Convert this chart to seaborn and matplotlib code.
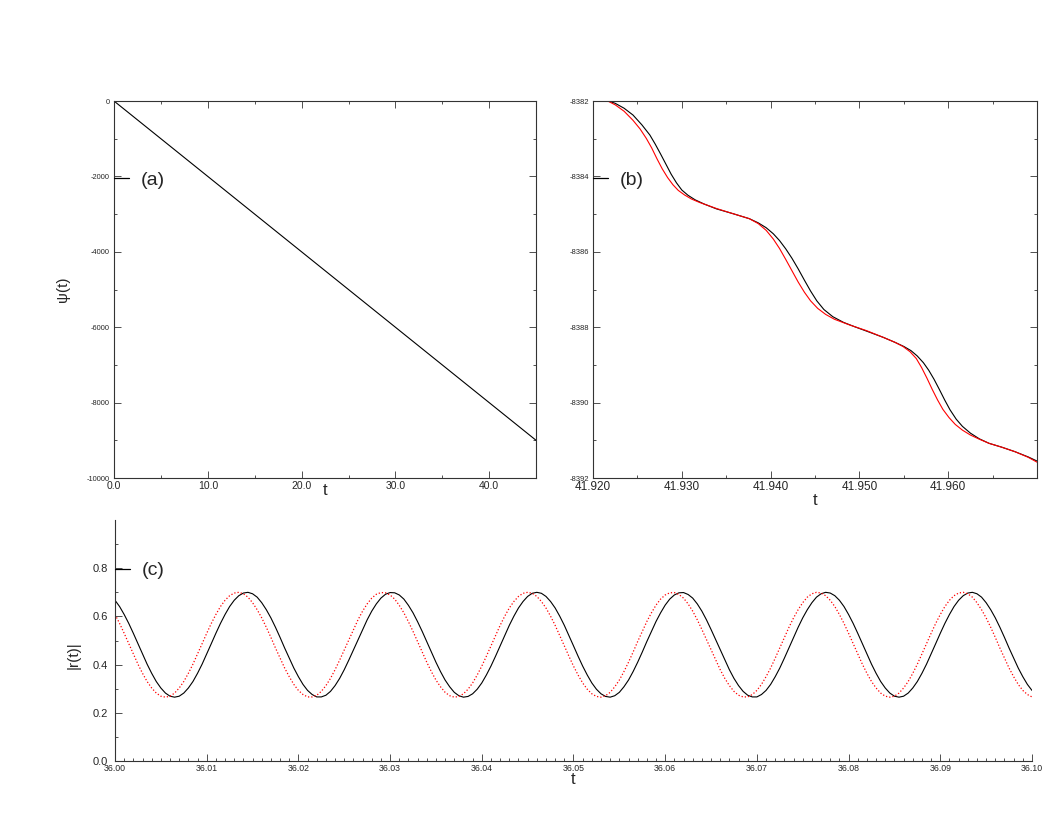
import numpy as np
import pandas as pd
import matplotlib
matplotlib.use("Agg")
import matplotlib.pyplot as plt
import seaborn as sns
from matplotlib.ticker import MultipleLocator, FormatStrFormatter
from matplotlib.lines import Line2D

# ---- data ----
# (a) psi(t) over the whole run
t_a = [0.0, 45.0]
psi_a = [0.0, -9000.0]

# (b) zoom on psi(t): black and red curves
t_b_black = [41.9215, 41.9225, 41.9235, 41.9245, 41.9255, 41.9264, 41.9270, 41.9276,
             41.9282, 41.9288, 41.9294, 41.9300, 41.9307, 41.9315, 41.9325, 41.9339,
             41.9358, 41.9376, 41.9386, 41.9395, 41.9403, 41.9410, 41.9417, 41.9424,
             41.9431, 41.9438, 41.9445, 41.9452, 41.9460, 41.9470, 41.9482, 41.9495,
             41.9510, 41.9527, 41.9540, 41.9550, 41.9558, 41.9565, 41.9572, 41.9578,
             41.9584, 41.9590, 41.9596, 41.9602, 41.9609, 41.9616, 41.9625, 41.9635,
             41.9646, 41.9660, 41.9675, 41.9690, 41.9700]
psi_b_black = [-8381.98, -8382.06, -8382.19, -8382.37, -8382.63, -8382.90, -8383.14, -8383.40,
               -8383.67, -8383.94, -8384.17, -8384.36, -8384.50, -8384.62, -8384.73, -8384.86,
               -8384.99, -8385.12, -8385.23, -8385.36, -8385.52, -8385.70, -8385.92, -8386.17,
               -8386.45, -8386.75, -8387.04, -8387.30, -8387.53, -8387.72, -8387.87, -8387.99,
               -8388.12, -8388.27, -8388.40, -8388.51, -8388.62, -8388.76, -8388.94, -8389.14,
               -8389.38, -8389.65, -8389.93, -8390.19, -8390.44, -8390.63, -8390.81, -8390.96,
               -8391.08, -8391.18, -8391.30, -8391.44, -8391.55]
t_b_red = [41.9215, 41.9225, 41.9235, 41.9245, 41.9253, 41.9260, 41.9266, 41.9272,
           41.9278, 41.9284, 41.9290, 41.9296, 41.9303, 41.9311, 41.9320, 41.9339,
           41.9358, 41.9376, 41.9386, 41.9395, 41.9403, 41.9410, 41.9417, 41.9424,
           41.9431, 41.9438, 41.9445, 41.9453, 41.9462, 41.9472, 41.9489, 41.9508,
           41.9527, 41.9540, 41.9549, 41.9557, 41.9564, 41.9570, 41.9576, 41.9582,
           41.9588, 41.9594, 41.9601, 41.9608, 41.9616, 41.9625, 41.9635, 41.9646,
           41.9660, 41.9675, 41.9690, 41.9700]
psi_b_red = [-8381.98, -8382.10, -8382.27, -8382.51, -8382.74, -8382.99, -8383.24, -8383.53,
             -8383.80, -8384.03, -8384.22, -8384.37, -8384.49, -8384.60, -8384.69, -8384.85,
             -8384.99, -8385.12, -8385.25, -8385.43, -8385.66, -8385.91, -8386.20, -8386.50,
             -8386.80, -8387.07, -8387.30, -8387.50, -8387.66, -8387.79, -8387.94, -8388.09,
             -8388.27, -8388.40, -8388.51, -8388.65, -8388.83, -8389.07, -8389.35, -8389.65,
             -8389.93, -8390.18, -8390.40, -8390.58, -8390.73, -8390.86, -8390.97, -8391.08,
             -8391.18, -8391.30, -8391.45, -8391.58]

# (c) |r(t)| sampled every 0.0005
t_c = np.linspace(36.0, 36.1, 201)
r_black = [0.667, 0.641, 0.608, 0.571, 0.530, 0.487, 0.444, 0.402, 0.364, 0.330,
           0.303, 0.282, 0.269, 0.265, 0.269, 0.282, 0.303, 0.330, 0.364, 0.402,
           0.444, 0.487, 0.530, 0.571, 0.608, 0.641, 0.667, 0.686, 0.697, 0.700,
           0.694, 0.680, 0.657, 0.628, 0.594, 0.555, 0.513, 0.469, 0.427, 0.386,
           0.350, 0.318, 0.293, 0.276, 0.266, 0.266, 0.273, 0.289, 0.313, 0.343,
           0.379, 0.419, 0.461, 0.504, 0.546, 0.586, 0.622, 0.652, 0.676, 0.692,
           0.699, 0.698, 0.689, 0.672, 0.646, 0.615, 0.578, 0.538, 0.495, 0.452,
           0.410, 0.371, 0.336, 0.308, 0.285, 0.271, 0.265, 0.268, 0.279, 0.298,
           0.324, 0.357, 0.394, 0.435, 0.478, 0.521, 0.563, 0.601, 0.635, 0.662,
           0.683, 0.696, 0.700, 0.696, 0.683, 0.662, 0.635, 0.601, 0.563, 0.521,
           0.478, 0.435, 0.394, 0.357, 0.324, 0.298, 0.279, 0.268, 0.265, 0.271,
           0.285, 0.308, 0.336, 0.371, 0.410, 0.452, 0.496, 0.538, 0.579, 0.615,
           0.647, 0.672, 0.689, 0.698, 0.699, 0.691, 0.676, 0.652, 0.622, 0.586,
           0.546, 0.504, 0.461, 0.419, 0.379, 0.343, 0.313, 0.289, 0.273, 0.266,
           0.266, 0.276, 0.293, 0.318, 0.350, 0.386, 0.427, 0.470, 0.513, 0.555,
           0.594, 0.628, 0.657, 0.680, 0.694, 0.700, 0.697, 0.686, 0.667, 0.641,
           0.608, 0.571, 0.530, 0.487, 0.444, 0.402, 0.364, 0.330, 0.303, 0.282,
           0.269, 0.265, 0.269, 0.282, 0.303, 0.330, 0.364, 0.402, 0.444, 0.487,
           0.530, 0.571, 0.608, 0.641, 0.667, 0.686, 0.697, 0.700, 0.694, 0.680,
           0.657, 0.628, 0.594, 0.555, 0.513, 0.469, 0.427, 0.386, 0.350, 0.318,
           0.293]
r_red = [0.608, 0.571, 0.530, 0.487, 0.444, 0.402, 0.364, 0.330, 0.303, 0.282,
         0.269, 0.265, 0.269, 0.282, 0.303, 0.330, 0.364, 0.402, 0.444, 0.487,
         0.530, 0.571, 0.608, 0.641, 0.667, 0.686, 0.697, 0.700, 0.694, 0.680,
         0.657, 0.628, 0.594, 0.555, 0.513, 0.469, 0.427, 0.386, 0.350, 0.318,
         0.293, 0.276, 0.266, 0.266, 0.273, 0.289, 0.313, 0.343, 0.379, 0.419,
         0.461, 0.504, 0.546, 0.586, 0.622, 0.652, 0.676, 0.692, 0.699, 0.698,
         0.689, 0.672, 0.646, 0.615, 0.578, 0.538, 0.495, 0.452, 0.410, 0.371,
         0.336, 0.308, 0.285, 0.271, 0.265, 0.268, 0.279, 0.298, 0.324, 0.357,
         0.394, 0.435, 0.478, 0.521, 0.563, 0.601, 0.635, 0.662, 0.683, 0.696,
         0.700, 0.696, 0.683, 0.662, 0.635, 0.601, 0.563, 0.521, 0.478, 0.435,
         0.394, 0.357, 0.324, 0.298, 0.279, 0.268, 0.265, 0.271, 0.285, 0.308,
         0.336, 0.371, 0.410, 0.452, 0.496, 0.538, 0.579, 0.615, 0.647, 0.672,
         0.689, 0.698, 0.699, 0.691, 0.676, 0.652, 0.622, 0.586, 0.546, 0.504,
         0.461, 0.419, 0.379, 0.343, 0.313, 0.289, 0.273, 0.266, 0.266, 0.276,
         0.293, 0.318, 0.350, 0.386, 0.427, 0.470, 0.513, 0.555, 0.594, 0.628,
         0.657, 0.680, 0.694, 0.700, 0.697, 0.686, 0.667, 0.641, 0.608, 0.571,
         0.530, 0.487, 0.444, 0.402, 0.364, 0.330, 0.303, 0.282, 0.269, 0.265,
         0.269, 0.282, 0.303, 0.330, 0.364, 0.402, 0.444, 0.487, 0.530, 0.571,
         0.608, 0.641, 0.667, 0.686, 0.697, 0.700, 0.694, 0.680, 0.657, 0.628,
         0.594, 0.555, 0.513, 0.469, 0.427, 0.386, 0.350, 0.318, 0.293, 0.276,
         0.266]

# ---- style ----
sns.set_style("ticks")
plt.rcParams["font.family"] = ["Liberation Sans", "DejaVu Sans"]
spine_col = "#333333"

fig = plt.figure(figsize=(10.58, 8.17), dpi=100)
ax_a = fig.add_axes([0.1078, 0.4149, 0.3989, 0.4614])
ax_b = fig.add_axes([0.5605, 0.4149, 0.4197, 0.4614])
ax_c = fig.add_axes([0.1087, 0.0685, 0.8667, 0.295])


def box_axis(ax):
    for s in ax.spines.values():
        s.set_visible(True)
        s.set_color(spine_col)
        s.set_linewidth(0.8)
    ax.tick_params(which="both", direction="in", top=True, right=True,
                   color=spine_col, width=0.6)
    ax.tick_params(which="major", length=5)
    ax.tick_params(which="minor", length=2.5)


def tag(ax, text):
    h = Line2D([], [], color="black", lw=0.9)
    ax.legend([h], [text], loc="center left", bbox_to_anchor=(0.0, 0.79),
              frameon=False, fontsize=14, handlelength=0.75, handletextpad=0.6,
              borderpad=0, borderaxespad=0)


# (a)
sns.lineplot(x=t_a, y=psi_a, ax=ax_a, color="black", lw=0.8,
             estimator=None, sort=False)
ax_a.set_xlim(0, 45)
ax_a.set_ylim(-10000, 0)
box_axis(ax_a)
ax_a.xaxis.set_major_locator(MultipleLocator(10))
ax_a.xaxis.set_minor_locator(MultipleLocator(5))
ax_a.yaxis.set_major_locator(MultipleLocator(2000))
ax_a.yaxis.set_minor_locator(MultipleLocator(1000))
ax_a.xaxis.set_major_formatter(FormatStrFormatter("%.1f"))
ax_a.yaxis.set_major_formatter(FormatStrFormatter("%d"))
ax_a.tick_params(axis="x", labelsize=7.5, pad=2)
ax_a.tick_params(axis="y", labelsize=5.3, pad=3)
ax_a.set_xlabel("t", fontsize=12)
ax_a.xaxis.set_label_coords(0.5, -0.012)
ax_a.set_ylabel("ψ(t)", fontsize=11)
ax_a.yaxis.set_label_coords(-0.104, 0.5)
tag(ax_a, "(a)")

# (b)
sns.lineplot(x=t_b_black, y=psi_b_black, ax=ax_b, color="black", lw=0.8,
             estimator=None, sort=False)
sns.lineplot(x=t_b_red, y=psi_b_red, ax=ax_b, color="red", lw=0.8,
             estimator=None, sort=False)
ax_b.set_xlim(41.920, 41.970)
ax_b.set_ylim(-8392, -8382)
box_axis(ax_b)
ax_b.xaxis.set_minor_locator(MultipleLocator(0.005))
ax_b.yaxis.set_major_locator(MultipleLocator(2))
ax_b.yaxis.set_minor_locator(MultipleLocator(1))
ax_b.set_xticks([41.92, 41.93, 41.94, 41.95, 41.96])
ax_b.xaxis.set_major_formatter(FormatStrFormatter("%.3f"))
ax_b.yaxis.set_major_formatter(FormatStrFormatter("%d"))
ax_b.tick_params(axis="x", labelsize=8.5, pad=2)
ax_b.tick_params(axis="y", labelsize=5.5, pad=3)
ax_b.set_xlabel("t", fontsize=12)
ax_b.xaxis.set_label_coords(0.5, -0.04)
ax_b.set_ylabel("")
tag(ax_b, "(b)")

# (c)
sns.lineplot(x=t_c, y=r_black, ax=ax_c, color="black", lw=0.8,
             estimator=None, sort=False)
sns.lineplot(x=t_c, y=r_red, ax=ax_c, color="red", lw=0.9, ls=(0, (1, 1.6)),
             estimator=None, sort=False)
ax_c.set_xlim(36.0, 36.1)
ax_c.set_ylim(0, 1.0)
for side in ["top", "right"]:
    ax_c.spines[side].set_visible(False)
for side in ["left", "bottom"]:
    ax_c.spines[side].set_color(spine_col)
    ax_c.spines[side].set_linewidth(0.8)
ax_c.tick_params(which="both", direction="in", color=spine_col, width=0.6)
ax_c.tick_params(which="major", length=5)
ax_c.tick_params(which="minor", length=2.5)
ax_c.set_xticks(np.linspace(36.0, 36.1, 11))
ax_c.xaxis.set_minor_locator(MultipleLocator(0.001))
ax_c.set_yticks([0.0, 0.2, 0.4, 0.6, 0.8])
ax_c.set_yticks([0.1, 0.3, 0.5, 0.7, 0.9], minor=True)
ax_c.xaxis.set_major_formatter(FormatStrFormatter("%.2f"))
ax_c.yaxis.set_major_formatter(FormatStrFormatter("%.1f"))
ax_c.tick_params(axis="x", labelsize=6.3, pad=2)
ax_c.tick_params(axis="y", labelsize=8, pad=5)
ax_c.set_xlabel("t", fontsize=12)
ax_c.xaxis.set_label_coords(0.4995, -0.045)
ax_c.set_ylabel("|r(t)|", fontsize=11)
ax_c.yaxis.set_label_coords(-0.037, 0.44)
tag(ax_c, "(c)")

fig.savefig("out.png", dpi=100)
